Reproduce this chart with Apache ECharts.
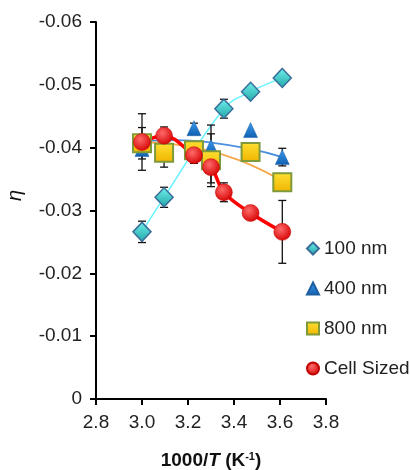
<!DOCTYPE html>
<html><head><meta charset="utf-8">
<script src="https://cdn.jsdelivr.net/npm/echarts@6/dist/echarts.min.js"></script>
<style>html,body{margin:0;padding:0;background:#fff}#c{width:410px;height:470px}</style>
</head><body><div id="c"></div>
<script>
// ---- data ----
const xTicks = [2.8, 3.0, 3.2, 3.4, 3.6, 3.8];
const yTicks = [0, -0.01, -0.02, -0.03, -0.04, -0.05, -0.06];

const nm100X = [3.0, 3.096, 3.356, 3.472, 3.61];
const nm100Y = [-0.0266, -0.0321, -0.0462, -0.0489, -0.0511];
const nm100Err = [0.0017, 0.0016, 0.0015, 0, 0];

const nm400X = [3.0, 3.226, 3.30, 3.472, 3.61];
const nm400Y = [-0.0398, -0.0431, -0.0401, -0.0428, -0.0385];
const nm400Err = [0, 0.0008, 0.0035, 0, 0.0014];

const nm800X = [3.0, 3.096, 3.226, 3.30, 3.472, 3.61];
const nm800Y = [-0.0407, -0.0392, -0.0396, -0.0380, -0.0393, -0.0345];
const nm800Err = [0.0025, 0.0023, 0, 0.0042, 0, 0];

const cellX = [3.0, 3.096, 3.226, 3.30, 3.356, 3.472, 3.61];
const cellY = [-0.0409, -0.0419, -0.0388, -0.0369, -0.0329, -0.0296, -0.0266];
const cellErr = [0.0045, 0.0014, 0.0013, 0.0025, 0.0015, 0, 0.0050];

const trend400X = [3.0, 3.15, 3.3, 3.47, 3.61];
const trend400Y = [-0.0410, -0.0412, -0.0408, -0.0398, -0.0385];
const trend800X = [3.0, 3.12, 3.23, 3.34, 3.47, 3.61];
const trend800Y = [-0.0409, -0.0406, -0.0400, -0.0390, -0.0373, -0.0347];

const names = ['100 nm', '400 nm', '800 nm', 'Cell Sized'];
// ---------------------------------------

const FONT = "'Liberation Sans', Arial, sans-serif";
const zip = (xs, ys) => xs.map((x, i) => [x, ys[i]]);
const errData = [];
[[nm100X, nm100Y, nm100Err], [nm400X, nm400Y, nm400Err], [nm800X, nm800Y, nm800Err], [cellX, cellY, cellErr]]
  .forEach(([xs, ys, es]) => xs.forEach((x, i) => { if (es[i] > 0) errData.push([x, ys[i], es[i]]); }));

function errRender(params, api) {
  const x = api.value(0), y = api.value(1), e = api.value(2);
  const a = api.coord([x, y - e]), b = api.coord([x, y + e]);
  const c = 4, st = {stroke: '#111', lineWidth: 1.3};
  return {type: 'group', children: [
    {type: 'line', shape: {x1: a[0], y1: a[1], x2: b[0], y2: b[1]}, style: st},
    {type: 'line', shape: {x1: a[0] - c, y1: a[1], x2: a[0] + c, y2: a[1]}, style: st},
    {type: 'line', shape: {x1: b[0] - c, y1: b[1], x2: b[0] + c, y2: b[1]}, style: st}
  ]};
}

const lg = (c1, c2) => ({type: 'linear', x: 0, y: 0, x2: 0, y2: 1, colorStops: [{offset: 0, color: c1}, {offset: 1, color: c2}]});
const rg = (c1, c2) => ({type: 'radial', x: 0.4, y: 0.35, r: 0.7, colorStops: [{offset: 0, color: c1}, {offset: 1, color: c2}]});

const chart = echarts.init(document.getElementById('c'), null, {renderer: 'canvas'});
chart.setOption({
  animation: false,
  textStyle: {fontFamily: FONT},
  grid: {left: 96, top: 22, right: 84, bottom: 71, containLabel: false, outerBoundsMode: 'none'},
  legend: {
    orient: 'vertical', left: 306, top: 239, padding: 0, itemGap: 21, itemWidth: 12, itemHeight: 12,
    textStyle: {fontSize: 19, color: '#222', fontFamily: FONT, lineHeight: 19},
    data: names
  },
  graphic: [{
    type: 'text', left: 5, top: 190, rotation: Math.PI / 2,
    style: {text: 'η', fontSize: 20, fontStyle: 'italic', fill: '#111', fontFamily: FONT}
  }],
  xAxis: {
    type: 'value', min: 2.8, max: 3.8, interval: 0.2,
    axisLine: {show: true, onZero: false, lineStyle: {color: '#000', width: 2}},
    axisTick: {show: true, length: 6, lineStyle: {color: '#000', width: 2}},
    splitLine: {show: false},
    axisLabel: {fontSize: 19, color: '#222', margin: 14, fontFamily: FONT,
      formatter: v => { const t = xTicks.find(k => Math.abs(k - v) < 1e-6); return t === undefined ? '' : t.toFixed(1); }},
    name: '{b|1000/}{i|T}{b| (K}{s|-1}{b|)}', nameLocation: 'middle', nameGap: 52,
    nameTextStyle: {rich: {
      b: {fontSize: 19, fontWeight: 'bold', color: '#111', fontFamily: FONT, lineHeight: 20},
      i: {fontSize: 19, fontWeight: 'bold', fontStyle: 'italic', color: '#111', fontFamily: FONT, lineHeight: 20},
      s: {fontSize: 11, fontWeight: 'bold', color: '#111', fontFamily: FONT, verticalAlign: 'top', lineHeight: 20}
    }}
  },
  yAxis: {
    type: 'value', min: -0.06, max: 0, interval: 0.01, inverse: true,
    axisLine: {show: true, onZero: false, lineStyle: {color: '#000', width: 2}},
    axisTick: {show: true, length: 6, lineStyle: {color: '#000', width: 2}},
    splitLine: {show: false},
    axisLabel: {fontSize: 19, color: '#222', margin: 14, fontFamily: FONT,
      formatter: v => { const t = yTicks.find(k => Math.abs(k - v) < 1e-9); return t === undefined ? '' : (t === 0 ? '0' : t.toFixed(2)); }}
  },
  series: [
    {type: 'line', data: zip(nm100X, nm100Y), smooth: 0.4, showSymbol: false, symbol: 'none', lineStyle: {color: '#66f2ff', width: 1.5}, z: 1, silent: true},
    {type: 'line', data: zip(trend400X, trend400Y), smooth: 0.5, showSymbol: false, symbol: 'none', lineStyle: {color: '#4a8fe0', width: 1.8}, z: 1, silent: true},
    {type: 'line', data: zip(trend800X, trend800Y), smooth: 0.5, showSymbol: false, symbol: 'none', lineStyle: {color: '#f5a84a', width: 1.8}, z: 1, silent: true},
    {type: 'line', data: zip(cellX, cellY), smooth: 0.35, showSymbol: false, symbol: 'none', lineStyle: {color: '#ff0000', width: 3.5}, z: 2, silent: true},
    {type: 'custom', renderItem: errRender, data: errData, z: 3, silent: true},
    {name: names[0], type: 'scatter', data: zip(nm100X, nm100Y), symbol: 'diamond', symbolSize: [18, 19], z: 4,
      itemStyle: {color: lg('#6ff0ec', '#22a6a8'), borderColor: '#3a6d99', borderWidth: 1.5, opacity: 1}},
    {name: names[1], type: 'scatter', data: zip(nm400X, nm400Y), symbol: 'triangle', symbolSize: [14, 15], z: 5,
      itemStyle: {color: lg('#3d9cf0', '#0f5fb0'), borderColor: '#1f5fa0', borderWidth: 0.5, opacity: 1}},
    {name: names[2], type: 'scatter', data: zip(nm800X, nm800Y), symbol: 'rect', symbolSize: 18, z: 6,
      itemStyle: {color: lg('#ffe033', '#f0b400'), borderColor: '#7f9a3a', borderWidth: 2, opacity: 1}},
    {name: names[3], type: 'scatter', data: zip(cellX, cellY), symbol: 'circle', symbolSize: 17, z: 7,
      itemStyle: {color: rg('#ff6a6a', '#d40000'), borderColor: '#c00000', borderWidth: 0.5, opacity: 1}}
  ]
});
</script></body></html>
